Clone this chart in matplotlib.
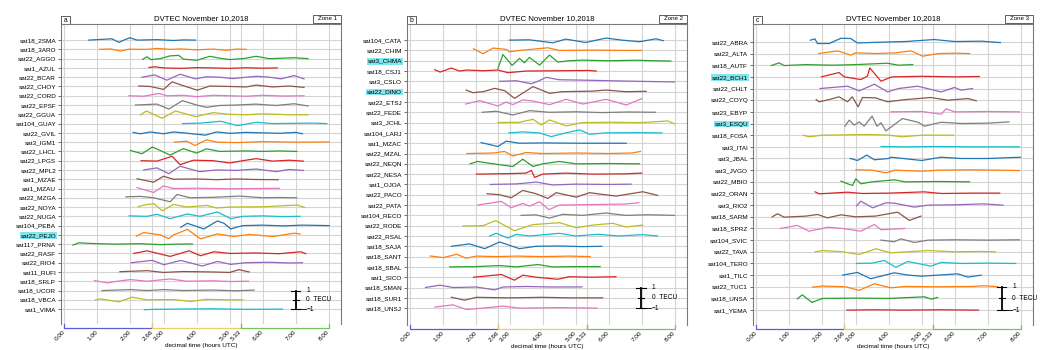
import matplotlib.pyplot as plt
import matplotlib.transforms as mtransforms
from matplotlib.patches import Rectangle

plt.rcParams['font.family'] = ['Liberation Sans', 'DejaVu Sans']

title = 'DVTEC November 10,2018'
xticks = [0, 1, 2, 2.66, 3, 4, 5, 5.33, 6, 7, 8]
zones = [(0, 2.66, '#5c5cd8'), (2.66, 5.33, '#e8cf6a'), (5.33, 8, '#72c460')]

# ---- panel a / zone 1 : (time in hours UTC, dTEC in TECU) ----
a_names = ['sat18_2SMA', 'sat18_3ARO', 'sat22_AGGO', 'sat1_AZUL', 'sat22_BCAR', 'sat22_CHOY',
           'sat22_CORD', 'sat22_EPSF', 'sat22_GGUA', 'sat104_GUAY', 'sat22_GVIL', 'sat3_IGM1',
           'sat22_LHCL', 'sat22_LPGS', 'sat22_MPL2', 'sat1_MZAE', 'sat1_MZAU', 'sat22_MZGA',
           'sat22_NOYA', 'sat22_NUGA', 'sat104_PEBA', 'sat22_PEJO', 'sat117_PRNA', 'sat22_RASF',
           'sat22_RIO4', 'sat11_RUFI', 'sat18_SRLP', 'sat18_UCOR', 'sat18_VBCA', 'sat1_VIMA']
a_marked = ['sat22_PEJO']
a_tracks = [
    [(0.74, 0), (1.0, 0.05), (1.44, 0.14), (1.65, -0.25), (1.8, 0.0), (1.98, 0.25), (2.2, 0.0), (2.8, 0.05), (3.3, -0.04), (3.6, 0.02), (3.97, 0.0)],
    [(1.06, 0), (1.4, 0.05), (1.7, -0.18), (1.95, 0.02), (2.5, 0.0), (2.8, 0.1), (3.2, 0.0), (3.5, 0.05), (4.0, -0.05), (4.5, 0.03), (4.9, -0.1), (5.2, 0.03), (5.5, 0.0)],
    [(2.37, -0.07), (2.5, 0.2), (2.62, -0.1), (2.9, 0.0), (3.2, 0.3), (3.46, 0.35), (3.6, -0.05), (4.0, -0.18), (4.4, 0.25), (4.7, 0.05), (5.0, -0.1), (5.4, 0.0), (5.8, 0.25), (6.2, 0.0), (6.6, 0.05), (6.95, 0.1), (7.37, 0.0)],
    [(2.56, 0.05), (2.75, 0.12), (3.0, 0.0), (3.5, -0.05), (4.0, 0.03), (4.5, 0.0), (5.0, -0.05), (5.5, 0.02), (6.0, -0.03), (6.44, 0.0)],
    [(2.35, 0.0), (2.73, 0.25), (3.1, -0.32), (3.5, 0.32), (3.97, -0.18), (4.3, 0.05), (4.7, 0.0), (5.1, -0.15), (5.5, 0.0), (5.83, 0.1), (6.2, 0.0), (6.55, -0.18), (6.95, 0.18), (7.25, -0.18)],
    [(2.25, 0.05), (2.6, 0.0), (3.0, -0.32), (3.26, 0.5), (3.5, 0.2), (4.02, -0.4), (4.4, 0.05), (5.0, 0.0), (5.5, -0.05), (5.8, 0.15), (6.3, -0.05), (6.8, 0.05), (7.25, -0.1)],
    [(1.95, 0.0), (2.4, -0.05), (2.86, 0.25), (3.1, 0.0), (3.6, 0.05), (4.0, -0.1), (4.5, 0.05), (5.0, 0.0), (5.5, -0.05), (6.0, 0.05), (6.6, -0.03), (7.25, 0.0)],
    [(2.15, 0.0), (2.8, 0.1), (3.16, -0.43), (3.57, 0.47), (4.0, 0.0), (4.3, -0.25), (4.7, -0.05), (5.2, 0.0), (5.8, 0.1), (6.4, -0.05), (6.95, 0.14), (7.37, -0.1)],
    [(2.3, -0.07), (2.48, 0.36), (2.7, 0.0), (2.96, -0.43), (3.36, 0.36), (3.97, -0.25), (4.5, 0.18), (5.0, 0.0), (5.5, -0.05), (6.0, 0.05), (6.8, -0.05), (7.37, -0.05)],
    [(3.57, 0.0), (4.1, 0.05), (4.73, 0.25), (5.23, -0.22), (5.8, 0.14), (6.3, 0.0), (7.0, 0.03), (7.5, 0.05), (7.94, 0.0)],
    [(2.08, 0.05), (2.3, -0.1), (2.6, 0.1), (3.0, -0.1), (3.3, 0.1), (3.6, 0.0), (4.27, -0.25), (4.6, 0.1), (5.0, -0.05), (5.5, 0.05), (6.0, 0.0), (6.5, -0.05), (7.0, 0.05), (7.2, -0.1)],
    [(3.33, 0.0), (3.7, 0.1), (3.95, -0.36), (4.3, 0.25), (4.6, 0.0), (5.2, -0.05), (6.0, 0.05), (7.0, 0.0), (8.01, 0.02)],
    [(2.0, 0.1), (2.35, -0.25), (2.66, 0.47), (2.9, 0.1), (3.2, -0.4), (3.6, 0.3), (4.0, -0.18), (4.3, 0.28), (4.7, 0.0), (5.5, 0.05), (6.0, 0.0), (6.5, 0.05), (7.03, 0.0)],
    [(2.32, 0.0), (2.8, -0.05), (3.26, 0.47), (3.5, -0.43), (3.9, 0.05), (4.5, 0.0), (5.0, -0.25), (5.4, 0.0), (5.8, 0.22), (6.3, -0.05), (6.8, 0.05), (7.23, -0.05)],
    [(2.4, 0.0), (2.8, 0.22), (3.16, -0.4), (3.5, 0.4), (3.9, 0.0), (4.1, -0.18), (4.6, 0.0), (5.2, -0.05), (5.8, 0.1), (6.4, -0.18), (6.8, 0.05), (7.23, -0.05)],
    [(2.2, 0.05), (2.7, -0.32), (3.0, 0.32), (3.3, 0.0), (4.0, 0.03), (4.6, -0.05), (5.2, 0.03), (5.8, -0.03), (6.47, -0.05)],
    [(2.2, 0.1), (2.7, -0.43), (3.0, 0.28), (3.3, 0.0), (4.0, 0.03), (5.0, -0.03), (6.0, 0.0), (6.5, 0.02)],
    [(1.86, 0.1), (2.3, 0.15), (2.7, 0.0), (3.2, -0.43), (3.41, 0.36), (3.8, 0.0), (4.5, 0.05), (5.3, 0.18), (6.0, 0.0), (6.5, 0.03), (7.03, 0.0)],
    [(2.23, 0.05), (2.5, 0.28), (2.71, 0.36), (2.96, -0.4), (3.3, 0.28), (3.7, 0.0), (4.3, 0.18), (4.6, -0.1), (5.0, 0.0), (6.0, 0.03), (7.05, 0.22), (7.27, -0.05)],
    [(1.96, 0.05), (2.5, 0.0), (2.8, 0.22), (3.2, -0.25), (3.72, 0.25), (4.1, 0.0), (4.63, 0.47), (5.03, -0.25), (5.4, 0.0), (6.0, 0.05), (6.6, -0.03), (7.13, 0.0)],
    [(3.52, -0.18), (3.72, 0.25), (4.22, -0.36), (4.63, 0.5), (4.83, 0.25), (5.03, -0.36), (5.4, 0.0), (6.0, 0.05), (6.6, -0.03), (7.2, 0.05), (8.01, 0.0)],
    [(2.18, -0.14), (2.4, 0.25), (2.9, 0.0), (3.16, -0.4), (3.31, 0.0), (3.72, 0.6), (4.12, -0.43), (4.63, 0.1), (5.13, -0.18), (5.6, 0.05), (6.3, -0.18), (6.95, 0.18), (7.13, 0.1)],
    [(0.26, -0.1), (0.43, 0.14), (1.0, 0.05), (1.6, 0.0), (2.3, 0.05), (2.9, -0.05), (3.4, 0.0), (3.87, 0.02)],
    [(2.1, 0.0), (2.5, 0.28), (3.2, -0.32), (3.77, 0.28), (4.12, -0.25), (4.52, 0.18), (5.0, 0.0), (5.8, 0.05), (6.5, -0.03), (7.15, 0.18), (7.3, -0.03)],
    [(2.02, 0.0), (2.66, 0.25), (3.01, -0.22), (3.52, 0.25), (4.17, -0.36), (4.63, 0.14), (5.03, -0.18), (5.5, 0.0), (6.2, 0.05), (6.8, -0.03), (7.2, 0.0)],
    [(1.68, 0.03), (2.5, 0.14), (3.0, -0.05), (3.6, 0.05), (4.5, 0.0), (5.0, -0.05), (5.28, 0.25), (5.59, 0.0)],
    [(0.91, 0.07), (1.3, -0.18), (1.6, 0.0), (2.0, 0.18), (2.5, 0.0), (3.21, 0.25), (3.7, 0.0), (4.5, 0.05), (5.0, -0.03), (5.57, 0.0)],
    [(1.14, 0.0), (2.0, 0.1), (2.5, 0.0), (3.0, 0.1), (3.6, 0.0), (4.5, 0.05), (5.2, -0.03), (5.74, 0.05)],
    [(0.94, 0.0), (1.09, 0.1), (1.65, -0.22), (2.05, 0.28), (2.5, 0.0), (3.3, 0.03), (3.82, -0.18), (4.3, 0.05), (4.9, 0.0), (5.4, 0.0)],
    [(2.42, -0.07), (2.7, -0.03), (3.5, 0.0), (4.5, 0.03), (5.5, -0.03), (6.6, 0.0)],
]

# ---- panel b / zone 2 ----
b_names = ['sat104_CATA', 'sat22_CHIM', 'sat3_CHMA', 'sat18_CSJ1', 'sat3_CSLO', 'sat22_DINO',
           'sat22_ETSJ', 'sat22_FEDE', 'sat3_JCHL', 'sat104_LARJ', 'sat1_MZAC', 'sat22_MZAL',
           'sat22_NEQN', 'sat22_NESA', 'sat1_OJOA', 'sat22_PACO', 'sat22_PATA', 'sat104_RECO',
           'sat22_RODE', 'sat22_RSAL', 'sat18_SAJA', 'sat18_SANT', 'sat18_SBAL', 'sat1_SICO',
           'sat18_SMAN', 'sat18_SUR1', 'sat18_UNSJ']
b_marked = ['sat3_CHMA', 'sat22_DINO']
b_tracks = [
    [(3.0, 0.0), (3.6, 0.03), (4.31, -0.26), (4.7, 0.1), (5.3, -0.23), (5.92, 0.2), (6.4, 0.0), (6.93, -0.16), (7.43, 0.13), (7.65, -0.06)],
    [(1.91, 0.16), (2.2, -0.32), (2.5, 0.23), (2.9, 0.1), (3.0, -0.13), (3.3, 0.0), (4.16, 0.26), (4.5, 0.0), (5.5, 0.03), (6.5, 0.0), (6.99, 0.0)],
    [(2.65, -0.75), (2.8, 0.6), (3.08, -0.45), (3.3, 0.23), (3.45, -0.2), (3.6, 0.32), (3.91, -0.42), (4.21, 0.55), (4.46, -0.13), (4.8, 0.0), (5.2, 0.06), (6.0, 0.0), (6.8, 0.05), (7.4, 0.0), (7.88, -0.03)],
    [(0.74, 0.13), (0.9, -0.1), (1.24, 0.29), (1.49, 0.0), (1.7, 0.1), (2.2, 0.03), (2.65, 0.1), (2.95, -0.16), (3.5, 0.0), (4.5, 0.03), (5.4, 0.06), (5.62, 0.0)],
    [(2.7, 0.0), (3.2, 0.06), (3.66, -0.23), (3.85, 0.0), (4.11, 0.39), (4.5, 0.16), (5.5, 0.1), (6.5, 0.03), (7.5, -0.03), (7.99, -0.06)],
    [(1.69, 0.16), (1.89, -0.1), (2.2, 0.0), (2.55, 0.32), (2.85, 0.1), (3.15, -0.65), (3.71, 0.49), (4.21, -0.16), (4.6, 0.0), (5.5, 0.05), (5.92, 0.16), (6.5, 0.0), (7.13, 0.03)],
    [(1.67, -0.2), (2.1, 0.13), (2.65, -0.39), (2.9, 0.0), (3.1, -0.26), (3.4, 0.2), (3.7, 0.1), (4.21, -0.26), (4.71, 0.26), (5.22, -0.2), (5.92, 0.26), (6.53, -0.29), (7.0, 0.32)],
    [(2.17, 0.0), (2.6, 0.1), (3.1, -0.26), (3.61, 0.16), (4.2, 0.0), (5.0, 0.05), (5.8, -0.03), (6.6, 0.03), (7.41, 0.0)],
    [(2.65, 0.0), (3.3, 0.03), (3.71, 0.32), (3.96, -0.23), (4.21, 0.26), (4.71, -0.32), (5.2, 0.0), (6.0, 0.03), (7.0, 0.0), (7.79, 0.16), (7.99, -0.13)],
    [(2.98, 0.0), (3.4, 0.1), (3.9, 0.0), (4.26, -0.36), (4.7, 0.0), (5.12, 0.29), (5.42, -0.13), (5.9, 0.0), (6.8, 0.03), (7.61, 0.0)],
    [(2.14, 0.06), (2.65, -0.32), (2.9, 0.2), (3.3, 0.0), (4.0, 0.03), (5.0, 0.0), (6.0, 0.0), (6.53, 0.0)],
    [(1.71, 0.0), (2.5, 0.05), (2.85, 0.2), (3.1, -0.23), (3.5, 0.1), (4.0, 0.0), (5.0, 0.05), (6.0, 0.0), (6.7, 0.05), (6.96, 0.2)],
    [(1.81, 0.0), (2.04, 0.23), (2.5, 0.0), (3.1, -0.26), (3.4, 0.45), (3.71, -0.26), (4.0, 0.0), (4.51, 0.23), (5.0, 0.0), (6.0, 0.03), (6.93, 0.0)],
    [(2.0, 0.0), (3.0, 0.05), (3.5, 0.1), (3.66, 0.36), (3.76, -0.32), (4.0, 0.0), (4.7, 0.1), (5.5, 0.0), (6.5, 0.03), (7.0, 0.1)],
    [(2.42, 0.0), (3.2, 0.05), (3.81, 0.23), (4.3, -0.05), (5.0, 0.03), (6.0, 0.0), (6.68, 0.03)],
    [(2.32, 0.1), (2.7, 0.0), (3.05, -0.29), (3.4, 0.42), (3.8, 0.1), (4.16, -0.36), (4.41, 0.2), (5.02, -0.23), (5.42, 0.2), (6.22, -0.13), (7.03, 0.29), (7.48, -0.06)],
    [(2.04, 0.0), (2.75, 0.36), (3.05, -0.26), (3.4, 0.16), (3.6, -0.1), (3.91, 0.32), (4.19, -0.45), (4.5, 0.0), (5.5, 0.05), (6.5, 0.1), (6.91, 0.23)],
    [(3.35, 0.0), (3.8, 0.05), (4.21, -0.26), (4.61, 0.1), (5.2, 0.0), (5.92, 0.23), (6.5, 0.0), (7.2, 0.06), (7.99, 0.0)],
    [(1.59, -0.03), (2.2, 0.0), (2.58, 0.49), (3.15, -0.49), (3.7, 0.1), (4.51, 0.29), (5.02, -0.2), (5.5, 0.05), (6.12, 0.23), (6.53, -0.13), (7.03, 0.06)],
    [(2.4, 0.0), (2.6, 0.26), (2.95, -0.2), (3.2, 0.16), (3.6, 0.0), (4.51, 0.26), (5.0, 0.0), (5.67, 0.16), (6.3, 0.0), (7.03, 0.13), (7.48, 0.0)],
    [(1.24, 0.0), (1.79, 0.23), (2.25, -0.23), (2.7, 0.42), (3.3, -0.23), (3.8, 0.0), (4.5, 0.03), (5.2, -0.03), (5.79, 0.0)],
    [(0.6, 0.06), (1.0, -0.1), (1.4, 0.23), (1.69, -0.16), (2.0, 0.05), (2.6, 0.0), (3.2, 0.05), (4.0, 0.0), (4.8, 0.05), (5.44, 0.0)],
    [(1.19, 0.0), (2.0, 0.03), (2.7, 0.13), (3.2, 0.0), (3.86, 0.23), (4.3, 0.0), (5.0, 0.03), (5.74, 0.03)],
    [(1.91, 0.0), (2.75, 0.26), (3.15, -0.29), (3.4, 0.2), (3.8, 0.0), (4.46, -0.2), (4.8, 0.05), (5.5, 0.0), (6.22, 0.05)],
    [(0.46, 0.0), (0.89, 0.23), (1.3, 0.0), (2.0, 0.05), (2.55, -0.23), (2.8, 0.05), (3.5, 0.1), (4.3, 0.05), (5.19, 0.06)],
    [(1.24, 0.06), (1.64, -0.23), (2.0, 0.05), (3.0, 0.0), (4.0, 0.05), (4.8, 0.0), (5.82, 0.0)],
    [(0.74, 0.1), (1.29, 0.32), (1.69, -0.13), (2.2, 0.0), (2.8, 0.2), (3.3, 0.0), (4.5, 0.05), (5.65, 0.0)],
]

# ---- panel c / zone 3 ----
c_names = ['sat22_ABRA', 'sat22_ALTA', 'sat18_AUTF', 'sat22_BCH1', 'sat22_CHLT', 'sat22_COYQ',
           'sat23_EBYP', 'sat3_ESQU', 'sat18_FOSA', 'sat3_ITAI', 'sat3_JBAL', 'sat3_JVGO',
           'sat22_MBIO', 'sat22_ORAN', 'sat3_RIO2', 'sat18_SARM', 'sat18_SPRZ', 'sat104_SVIC',
           'sat22_TAVA', 'sat104_TERO', 'sat1_TILC', 'sat22_TUC1', 'sat18_UNSA', 'sat1_YEMA']
c_marked = ['sat22_BCH1', 'sat3_ESQU']
c_tracks = [
    [(1.63, 0.14), (1.77, 0.26), (1.85, -0.14), (2.2, -0.14), (2.56, 0.31), (2.85, 0.29), (3.06, -0.09), (3.5, -0.05), (4.5, 0.03), (5.38, 0.2), (6.0, 0.03), (6.8, 0.06), (7.38, -0.06)],
    [(1.89, 0.0), (2.46, 0.23), (2.86, -0.14), (3.0, 0.06), (3.6, 0.0), (4.2, 0.05), (4.68, 0.23), (5.03, -0.23), (5.5, 0.0), (6.0, 0.03), (6.45, 0.0)],
    [(0.45, -0.03), (0.69, 0.2), (0.84, -0.03), (1.5, 0.05), (2.3, 0.0), (3.0, 0.05), (3.96, 0.17), (4.3, 0.0), (4.73, 0.05)],
    [(1.97, 0.0), (2.5, 0.37), (2.66, 0.0), (3.16, -0.23), (3.36, 0.06), (3.43, 0.77), (3.77, -0.37), (4.1, 0.0), (5.0, 0.05), (6.0, 0.0), (6.74, 0.03)],
    [(1.93, 0.0), (2.76, 0.2), (3.11, -0.2), (3.57, 0.37), (3.97, -0.29), (4.3, 0.0), (4.88, 0.2), (5.59, -0.29), (5.99, 0.09), (6.19, -0.14), (6.54, 0.0)],
    [(1.81, 0.05), (1.9, -0.14), (2.2, 0.05), (2.5, 0.29), (2.76, -0.14), (2.9, 0.29), (3.08, -0.57), (3.21, 0.23), (3.6, 0.2), (3.97, -0.14), (4.5, 0.05), (5.28, 0.23), (5.79, 0.0), (6.4, 0.14), (6.65, -0.05)],
    [(4.07, 0.0), (5.0, 0.03), (5.59, -0.2), (5.74, 0.26), (6.0, 0.0), (7.0, 0.03), (7.96, 0.0)],
    [(2.68, -0.23), (2.81, 0.29), (2.96, -0.14), (3.11, 0.14), (3.26, -0.23), (3.5, 0.63), (3.65, -0.23), (3.77, 0.06), (3.92, -0.63), (4.42, 0.43), (4.9, 0.1), (5.08, -0.23), (5.59, 0.11), (6.2, 0.0), (7.0, 0.03), (7.64, 0.14)],
    [(1.42, 0.0), (1.59, -0.14), (2.0, 0.0), (3.4, 0.06), (4.0, 0.0), (4.42, -0.14), (5.0, 0.0), (5.97, 0.0)],
    [(3.77, 0.03), (4.5, 0.0), (5.5, 0.03), (6.5, 0.0), (7.96, 0.0)],
    [(2.84, 0.0), (3.06, -0.17), (3.34, 0.29), (3.57, -0.11), (4.0, 0.0), (4.07, 0.11), (5.0, -0.17), (5.59, 0.11), (6.2, 0.0), (7.0, 0.0), (7.99, 0.11)],
    [(3.01, 0.03), (3.5, 0.0), (3.92, -0.23), (4.2, 0.0), (5.0, -0.09), (5.5, 0.0), (6.5, 0.03), (7.96, -0.03)],
    [(2.56, 0.06), (2.76, -0.17), (2.91, -0.31), (3.01, 0.26), (3.16, -0.17), (3.5, 0.0), (4.17, 0.17), (4.5, 0.0), (5.5, 0.03), (6.45, 0.0)],
    [(1.78, 0.14), (1.9, -0.03), (2.76, 0.11), (3.2, 0.0), (4.0, 0.03), (5.08, 0.14), (5.6, 0.0), (6.5, 0.03), (7.36, 0.03)],
    [(3.03, -0.06), (3.16, 0.34), (3.52, -0.23), (3.92, 0.2), (4.17, 0.17), (4.78, -0.17), (5.2, 0.0), (6.0, 0.03), (6.85, 0.11), (7.46, 0.0)],
    [(0.48, 0.0), (0.64, 0.26), (0.84, -0.03), (1.5, 0.06), (1.85, 0.2), (2.15, -0.09), (2.56, 0.17), (3.0, 0.0), (3.6, 0.06), (4.27, 0.4), (4.63, -0.31), (4.98, 0.06)],
    [(0.72, 0.0), (1.24, 0.26), (1.59, -0.23), (2.0, 0.0), (2.15, 0.11), (2.6, 0.0), (3.16, -0.23), (3.57, 0.34), (3.77, -0.11), (4.49, 0.0)],
    [(3.77, 0.0), (4.17, -0.14), (4.37, 0.11), (4.78, -0.2), (5.2, 0.0), (6.0, 0.03), (7.0, 0.0), (7.96, 0.03)],
    [(1.78, 0.0), (2.0, 0.11), (2.6, 0.0), (3.11, -0.23), (3.62, 0.26), (4.07, -0.09), (5.18, 0.11), (6.0, 0.0), (6.8, 0.03), (7.23, 0.0)],
    [(3.03, 0.0), (3.5, 0.03), (3.87, 0.26), (4.22, -0.34), (4.58, 0.17), (5.28, -0.23), (5.59, 0.09), (6.2, 0.0), (7.0, 0.03), (7.84, 0.0)],
    [(2.61, 0.0), (3.06, 0.23), (3.46, -0.31), (4.17, 0.2), (4.6, 0.0), (4.98, -0.09), (5.5, 0.0), (6.09, 0.11), (6.4, -0.17), (6.8, 0.0)],
    [(1.7, -0.03), (2.0, 0.06), (2.7, 0.0), (3.11, -0.31), (3.57, 0.26), (4.07, -0.09), (4.5, 0.03), (5.5, 0.0), (6.5, 0.03), (6.9, 0.09), (7.3, 0.0)],
    [(1.24, -0.03), (1.39, 0.31), (1.68, -0.34), (2.0, 0.0), (3.0, 0.03), (4.0, 0.0), (5.08, 0.14), (5.3, -0.06), (5.48, 0.09)],
    [(2.74, 0.0), (3.5, 0.03), (4.5, 0.0), (5.5, 0.03), (6.72, 0.0)],
]


def draw_panel(ax, names, tracks, marked, letter, zone, bar_x, ylim):
    n = len(names)
    for i, pts in enumerate(tracks):
        y0 = n - 1 - i
        ax.plot([p[0] for p in pts], [y0 + p[1] for p in pts], color=f'C{i % 10}', lw=0.9)

    ax.set_xlim(-0.1, 8.37)
    ax.set_ylim(*ylim)
    ax.set_yticks([n - 1 - i for i in range(n)], names)
    ax.set_xticks(xticks, [f'{x:.2f}' for x in xticks])
    ax.grid(True, color='#d4d4d4', lw=0.8)
    ax.set_axisbelow(True)
    for s in ['top', 'left', 'right']:
        ax.spines[s].set_color('#7a7a7a')
        ax.spines[s].set_linewidth(0.8)
    ax.spines['bottom'].set_visible(False)
    ax.tick_params(axis='y', labelsize=4.6, length=2, width=0.6, color='#555', pad=1.5)
    ax.tick_params(axis='x', labelsize=4.6, length=0, pad=5)
    for lbl in ax.get_xticklabels():
        lbl.set_rotation(45)
        lbl.set_ha('right')
        lbl.set_va('center')
        lbl.set_rotation_mode('anchor')
    for lbl in ax.get_yticklabels():
        if lbl.get_text() in marked:
            lbl.set_bbox(dict(facecolor='#82e6ee', edgecolor='none', pad=0.6))
    ax.set_xlabel('decimal time (hours UTC)', fontsize=4.6, labelpad=1)
    ax.set_title(title, fontsize=5.6, pad=3)

    # panel letter box and zone box sitting on the top edge
    ax.add_patch(Rectangle((0.0, 1.0), 0.032, 0.027, transform=ax.transAxes, clip_on=False,
                           facecolor='white', edgecolor='#444', lw=0.6))
    ax.text(0.016, 1.0135, letter, transform=ax.transAxes, fontsize=4.8, ha='center', va='center')
    ax.add_patch(Rectangle((0.9, 1.004), 0.1, 0.027, transform=ax.transAxes, clip_on=False,
                           facecolor='white', edgecolor='#444', lw=0.6))
    ax.text(0.95, 1.0175, zone, transform=ax.transAxes, fontsize=4.4, ha='center', va='center')

    # coloured zone brackets under the time axis
    trans = mtransforms.blended_transform_factory(ax.transData, ax.transAxes)
    for x0, x1, c in zones:
        ax.plot([x0, x0, x1, x1], [0.0, -0.012, -0.012, 0.0], color=c, lw=0.9,
                transform=trans, clip_on=False)

    # TECU scale bar
    ax.plot([bar_x, bar_x], [0, 2], color='black', lw=1.3)
    for yy, w in [(0, 0.14), (1, 0.09), (2, 0.14)]:
        ax.plot([bar_x - w, bar_x + w], [yy, yy], color='black', lw=0.8)
    ax.plot([bar_x, bar_x + 0.3], [0, 0], color='black', lw=0.6)
    ax.text(bar_x + 0.32, 2, '1', fontsize=4.8, va='center')
    ax.text(bar_x + 0.32, 1, '0  TECU', fontsize=4.8, va='center')
    ax.text(bar_x + 0.32, 0, '\u22121', fontsize=4.8, va='center')


fig = plt.figure(figsize=(10.45, 3.5), dpi=100)
ax_a = fig.add_axes([0.0584, 0.074, 0.268, 0.857])
ax_b = fig.add_axes([0.3895, 0.071, 0.268, 0.860])
ax_c = fig.add_axes([0.7206, 0.071, 0.268, 0.860])

draw_panel(ax_a, a_names, a_tracks, a_marked, 'a', 'Zone 1', 7.0, (-1.62, 29 + 1.72))
draw_panel(ax_b, b_names, b_tracks, b_marked, 'b', 'Zone 2', 6.98, (-1.65, 26 + 1.55))
draw_panel(ax_c, c_names, c_tracks, c_marked, 'c', 'Zone 3', 7.42, (-1.29, 23 + 1.52))

fig.savefig('out.png', dpi=100)
